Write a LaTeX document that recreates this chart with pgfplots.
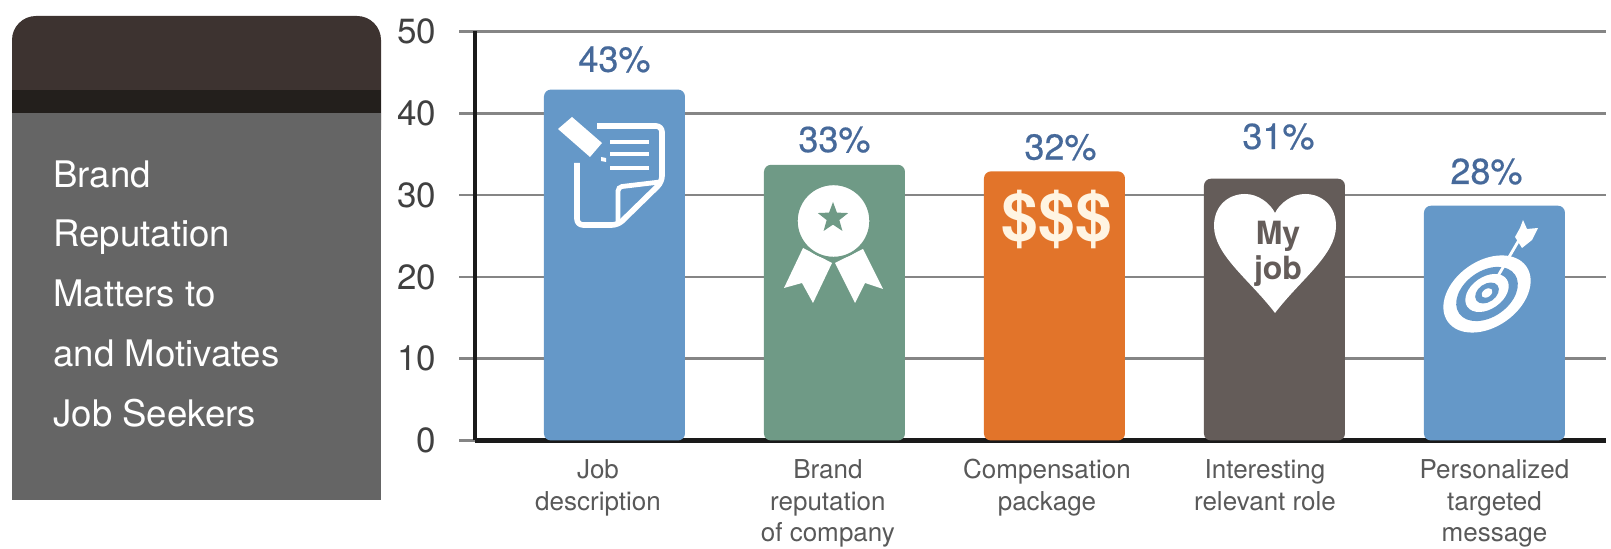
\documentclass[border=0pt]{standalone}
\usepackage{fontspec}
\setmainfont{TeX Gyre Heros}
\newfontface\valfont[FakeBold=0.5]{TeX Gyre Heros}
\usepackage{pgfplots}
\pgfplotsset{compat=1.18}
\usetikzlibrary{shapes.geometric}
\definecolor{panelbody}{HTML}{656565}
\definecolor{paneltop}{HTML}{3D3330}
\definecolor{panelband}{HTML}{231F1C}
\definecolor{barblue}{HTML}{6598C8}
\definecolor{bargreen}{HTML}{6F9A86}
\definecolor{barorange}{HTML}{E2742A}
\definecolor{bardark}{HTML}{645C59}
\definecolor{valblue}{HTML}{46699A}
\definecolor{gridgrey}{HTML}{858585}
\definecolor{axisblack}{HTML}{1A1A1A}
\begin{document}
\begin{tikzpicture}[x=0.5pt,y=0.5pt]
\useasboundingbox (0,0) rectangle (1611,549);
% left panel, coordinates are reference pixels with y going down
\begin{scope}[y=-0.5pt,shift={(0,-549)}]
  \fill[paneltop,rounded corners=12pt] (12,130) -- (12,16) -- (381,16) -- (381,130);
  \fill[panelbody] (12,113) rectangle (381,500);
  \fill[panelband] (12,90) rectangle (381,113);
  \foreach \t/\yy in {Brand/188,Reputation/247,Matters to/307,and Motivates/367,Job Seekers/427}
    \node[anchor=base west,inner sep=0pt,text=white,font=\fontsize{18.3}{22}\selectfont] at (53,\yy) {\t};
\end{scope}
\begin{axis}[
    at={(237.5pt,54.25pt)},
    anchor=south west,
    scale only axis,
    width=565.5pt,
    height=204.5pt,
    ybar,
    xmin=-0.634,
    xmax=4.507,
    ymin=0,
    ymax=50,
    ytick={0,10,20,30,40,50},
    xtick={-0.075,0.970,1.966,2.957,4.0},
    xticklabels={{Job\\description},{Brand\\reputation\\of company},{Compensation\\package},{Interesting\\relevant role},{Personalized\\targeted\\message}},
    /pgf/number format/assume math mode=true,
    axis lines*=left,
    axis line style={axisblack,line width=2.4pt,-},
    ymajorgrids,
    grid style={gridgrey,line width=1.3pt},
    ytick style={gridgrey,line width=1.3pt},
    xtick style={draw=none},
    tick align=outside,
    major tick length=8pt,
    yticklabel style={font=\fontsize{17.5}{20}\selectfont,text=black!75,xshift=-8pt},
    xticklabel style={font=\fontsize{13}{15.75}\selectfont,text=black!65,align=center,anchor=north,yshift=2pt},
    bar shift=0pt,
    bar width=70.5pt,
    clip=false,
    every node near coord/.append style={font=\fontsize{18}{20}\selectfont\valfont,text=valblue},
  ]
\addplot[fill=barblue,draw=none,rounded corners=3.5pt,nodes near coords={43\%},
  every node near coord/.append style={yshift=5pt}] coordinates {(0,42.9)};
\addplot[fill=bargreen,draw=none,rounded corners=3.5pt,nodes near coords={33\%},
  every node near coord/.append style={yshift=2.5pt}] coordinates {(1,33.7)};
\addplot[fill=barorange,draw=none,rounded corners=3.5pt,nodes near coords={32\%},
  every node near coord/.append style={xshift=3pt,yshift=2pt}] coordinates {(2,32.9)};
\addplot[fill=bardark,draw=none,rounded corners=3.5pt,nodes near coords={31\%},
  every node near coord/.append style={xshift=2pt,yshift=11pt}] coordinates {(3,32.0)};
\addplot[fill=barblue,draw=none,rounded corners=3.5pt,nodes near coords={28\%},
  every node near coord/.append style={xshift=-4pt,yshift=7pt}] coordinates {(4,28.7)};
\end{axis}
% icons on the bars
\begin{scope}[y=-0.5pt,shift={(0,-549)}]
  % document
  \draw[white,line width=2.8pt,rounded corners=3pt] (597,126) -- (662,126) -- (662,182) -- (618,225) -- (577,225) -- (577,163);
  \draw[white,line width=2.4pt,rounded corners=2pt] (618,225) -- (618,187) -- (660,182);
  \foreach \yy in {142,154,168} \draw[white,line width=2.3pt] (610,\yy) -- (649,\yy);
  \fill[white] (558,129) -- (572,117) -- (602,143) -- (590,157) -- cycle;
  \fill[white] (601,157) -- (606,158) -- (606,162) -- (601,161) -- cycle;
  % ribbon
  \fill[white] (803,248) -- (832,263) -- (813,303) -- (802,283) -- (784,288) -- cycle;
  \fill[white] (863,249) -- (835,263) -- (855,303) -- (865,283) -- (883,289) -- cycle;
  \filldraw[fill=white,draw=bargreen,line width=1.2pt] (833.5,221) circle[radius=37];
  \node[star,star points=5,star point ratio=2.4,fill=bargreen,minimum size=16pt,inner sep=0pt] at (833,218) {};
  % dollars
  \node[text={rgb,255:red,255;green,244;blue,226},font=\fontsize{33}{36}\selectfont\bfseries,inner sep=0pt] at (1057,219) {\$\$\$};
  % heart
  \fill[white] (1275,313) .. controls (1250,280) and (1214,255) .. (1214,226)
     .. controls (1214,206) and (1228,194) .. (1245,194)
     .. controls (1258,194) and (1270,203) .. (1275,213)
     .. controls (1280,203) and (1292,194) .. (1305,194)
     .. controls (1322,194) and (1336,206) .. (1336,226)
     .. controls (1336,255) and (1300,280) .. (1275,313) -- cycle;
  \node[text=bardark,font=\fontsize{16}{17.5}\selectfont\bfseries,align=center,inner sep=0pt] at (1278,254) {My\\job};
  % target
  \fill[white] (1487,294) ellipse[x radius=48,y radius=33,rotate=35];
  \fill[barblue] (1487,294) ellipse[x radius=34,y radius=23,rotate=35];
  \fill[white] (1487,293) ellipse[x radius=24,y radius=16,rotate=35];
  \fill[barblue] (1487,293) ellipse[x radius=13,y radius=9,rotate=35];
  \fill[white] (1487,293) ellipse[x radius=6,y radius=4,rotate=35];
  \draw[white,line width=1.4pt] (1498,276) -- (1519,240);
  \fill[white] (1523,220) -- (1527,229) -- (1538,228) -- (1532,240) -- (1522,248) -- (1515,237) -- (1520,228) -- cycle;
\end{scope}
\end{tikzpicture}
\end{document}
